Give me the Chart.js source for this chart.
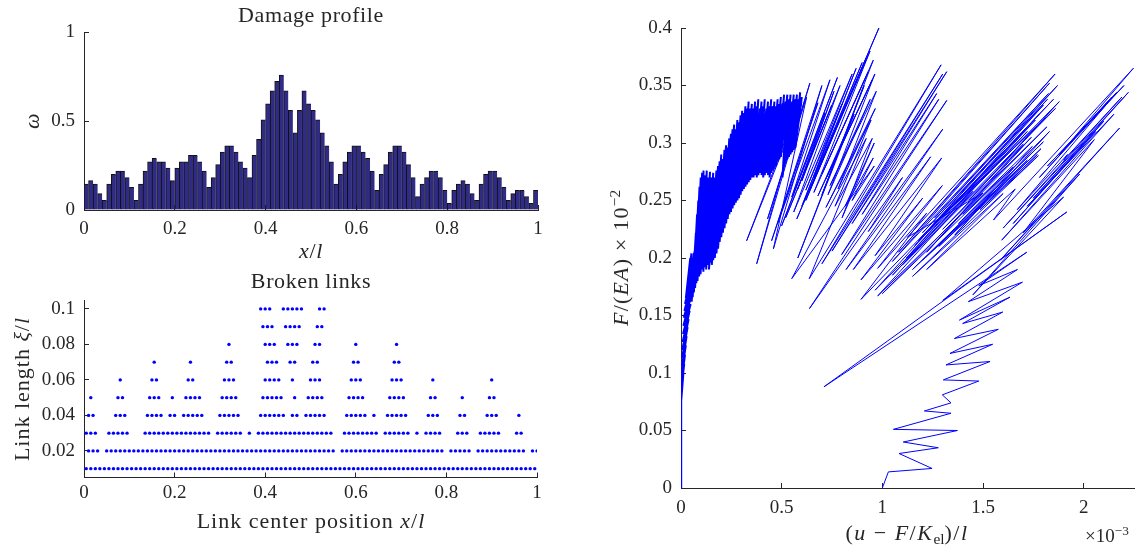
<!DOCTYPE html>
<html lang="en">
<head>
<meta charset="UTF-8">
<title>Damage profile, broken links and load path</title>
<script src="https://cdn.jsdelivr.net/npm/chart.js"></script>
<style>
  body {
    margin: 0;
    background: #fff;
    width: 1142px;
    height: 551px;
    position: relative;
    overflow: hidden;
    font-family: 'Liberation Serif', 'Times New Roman', serif;
    color: #262626;
  }
  canvas { position: absolute; }
  .lbl {
    position: absolute;
    white-space: nowrap;
    line-height: 1;
    font-size: 22px;
    letter-spacing: 0.6px;
    transform: translate(-50%, -50%);
  }
  .rot { transform: translate(-50%, -50%) rotate(-90deg); }
  sup, sub { font-size: 0.7em; line-height: 0; letter-spacing: 0; }
  sup { vertical-align: 0.5em; }
  sub { vertical-align: -0.25em; }
</style>
</head>
<body>

<canvas id="damageChart" width="560" height="250" style="left:0;top:0"></canvas>
<canvas id="linksChart" width="560" height="260" style="left:0;top:250px"></canvas>
<canvas id="loadChart" width="562" height="551" style="left:580px;top:0"></canvas>

<div class="lbl" style="left:311px;top:15px">Damage profile</div>
<div class="lbl" style="left:311px;top:251px"><i>x</i>/<i>l</i></div>
<div class="lbl rot" style="left:32px;top:121px"><i>ω</i></div>
<div class="lbl" style="left:311px;top:281px">Broken links</div>
<div class="lbl" style="left:311px;top:521px;letter-spacing:1px">Link center position <i>x</i>/<i>l</i></div>
<div class="lbl rot" style="left:22px;top:389px;letter-spacing:1px">Link length <i>ξ</i>/<i>l</i></div>
<div class="lbl rot" style="left:621px;top:258px;letter-spacing:1.2px"><i>F</i>/(<i>EA</i>) × 10<sup>−2</sup></div>
<div class="lbl" style="left:907px;top:533px;letter-spacing:1.5px">(<i>u</i> − <i>F</i>/<i>K</i><sub>el</sub>)/<i>l</i></div>
<div class="lbl" style="left:1107px;top:535px;font-size:19px;letter-spacing:0">×10<sup>−3</sup></div>

<script>
// damage per element (100 elements along the bar)
const damageOmega = [
  0.146, 0.165, 0.146, 0.092, 0.054, 0.146, 0.2, 0.219, 0.219, 0.182,
  0.127, 0.054, 0.146, 0.219, 0.27, 0.29, 0.27, 0.27, 0.236, 0.165,
  0.236, 0.27, 0.27, 0.307, 0.307, 0.27, 0.219, 0.127, 0.182, 0.255,
  0.326, 0.361, 0.361, 0.326, 0.27, 0.236, 0.182, 0.307, 0.397, 0.506,
  0.596, 0.669, 0.723, 0.758, 0.669, 0.56, 0.434, 0.56, 0.669, 0.596,
  0.56, 0.506, 0.434, 0.361, 0.27, 0.146, 0.2, 0.27, 0.326, 0.361,
  0.361, 0.326, 0.29, 0.219, 0.11, 0.2, 0.255, 0.326, 0.361, 0.361,
  0.326, 0.255, 0.182, 0.075, 0.146, 0.182, 0.219, 0.219, 0.182, 0.11,
  0.037, 0.11, 0.146, 0.165, 0.146, 0.092, 0.054, 0.146, 0.2, 0.219,
  0.219, 0.182, 0.127, 0.054, 0.092, 0.11, 0.11, 0.075, 0.037, 0.11
];
const damageBins = damageOmega.map((_, i) => i);
const damageXTicks = [0, 0.2, 0.4, 0.6, 0.8, 1];
const damageXLabels = ['0', '0.2', '0.4', '0.6', '0.8', '1'];
const damageYTicks = [0, 0.5, 1];
const damageYLabels = ['0', '0.5', '1'];

// broken links: centre positions (in % of l) for each link length
const linkLengths = [0.01, 0.02, 0.03, 0.04, 0.05, 0.06, 0.07, 0.08, 0.09, 0.1];
const centersLen1 = [0.5, 1.5, 2.5, 3.5, 4.5, 5.5, 6.5, 7.5, 8.5, 9.5, 10.5, 11.5, 12.5, 13.5, 14.5, 15.5, 16.5, 17.5, 18.5, 19.5,
  20.5, 21.5, 22.5, 23.5, 24.5, 25.5, 26.5, 27.5, 28.5, 29.5, 30.5, 31.5, 32.5, 33.5, 34.5, 35.5, 36.5, 37.5, 38.5, 39.5,
  40.5, 41.5, 42.5, 43.5, 44.5, 45.5, 46.5, 47.5, 48.5, 49.5, 50.5, 51.5, 52.5, 53.5, 54.5, 55.5, 56.5, 57.5, 58.5, 59.5,
  60.5, 61.5, 62.5, 63.5, 64.5, 65.5, 66.5, 67.5, 68.5, 69.5, 70.5, 71.5, 72.5, 73.5, 74.5, 75.5, 76.5, 77.5, 78.5, 79.5,
  80.5, 81.5, 82.5, 83.5, 84.5, 85.5, 86.5, 87.5, 88.5, 89.5, 90.5, 91.5, 92.5, 93.5, 94.5, 95.5, 96.5, 97.5, 98.5, 99.5];
const centersLen2 = [1, 2, 3, 5, 6, 7, 8, 9, 10, 11, 12, 13, 14, 15, 16, 17, 18, 19, 20, 21, 22, 23, 24, 25, 26, 27, 28, 29,
  30, 31, 32, 33, 34, 35, 36, 37, 38, 39, 40, 41, 42, 43, 44, 45, 46, 47, 48, 49, 50, 51, 52, 53, 54, 55, 57, 58, 59,
  60, 61, 62, 63, 64, 65, 66, 67, 68, 69, 70, 71, 72, 73, 74, 75, 76, 77, 78, 79, 81, 82, 83, 84, 85,
  87, 88, 89, 90, 91, 92, 93, 94, 95, 96, 97, 99, 100];
const centersLen3 = [0.5, 1.5, 2.5, 5.5, 6.5, 7.5, 8.5, 9.5, 13.5, 14.5, 15.5, 16.5, 17.5, 18.5, 19.5, 20.5, 21.5, 22.5,
  23.5, 24.5, 25.5, 26.5, 27.5, 29.5, 30.5, 31.5, 32.5, 33.5, 34.5, 36.5, 38.5, 39.5, 40.5, 41.5, 42.5, 43.5, 44.5,
  45.5, 46.5, 47.5, 48.5, 49.5, 50.5, 51.5, 52.5, 53.5, 54.5, 57.5, 58.5, 59.5, 60.5, 61.5, 62.5, 63.5, 64.5, 66.5,
  67.5, 68.5, 69.5, 70.5, 71.5, 73.5, 75.5, 76.5, 77.5, 78.5, 82.5, 83.5, 84.5, 87.5, 88.5, 89.5, 90.5, 91.5, 95.5, 96.5];
const centersLen4 = [1, 2, 7, 8, 9, 14, 15, 16, 17, 19, 20, 22, 23, 24, 25, 26, 30, 31, 32, 33, 34, 39, 40, 41, 42, 43, 44,
  46, 47, 49, 50, 51, 52, 53, 58, 59, 60, 61, 62, 64, 67, 68, 69, 70, 71, 76, 77, 78, 83, 84, 89, 90, 91, 96];
const centersLen5 = [1.5, 7.5, 8.5, 14.5, 15.5, 16.5, 19.5, 22.5, 23.5, 24.5, 25.5, 30.5, 31.5, 32.5, 33.5, 39.5, 40.5,
  41.5, 42.5, 43.5, 46.5, 49.5, 50.5, 51.5, 52.5, 58.5, 59.5, 60.5, 61.5, 67.5, 68.5, 69.5, 70.5, 76.5, 77.5, 83.5,
  89.5, 90.5];
const centersLen6 = [8, 15, 16, 23, 24, 31, 32, 33, 40, 41, 42, 43, 46, 50, 51, 52, 59, 60, 61, 68, 69, 70, 77, 90];
const centersLen7 = [15.5, 23.5, 31.5, 32.5, 40.5, 41.5, 42.5, 45.5, 46.5, 50.5, 51.5, 59.5, 60.5, 68.5, 69.5];
const centersLen8 = [32, 40, 41, 42, 45, 46, 47, 51, 52, 60, 69];
const centersLen9 = [39.5, 40.5, 41.5, 44.5, 45.5, 46.5, 47.5, 51.5, 52.5];
const centersLen10 = [39, 40, 41, 44, 45, 46, 47, 48, 52, 53];
const linkRows = [centersLen1, centersLen2, centersLen3, centersLen4, centersLen5,
  centersLen6, centersLen7, centersLen8, centersLen9, centersLen10];
const linkXTicks = [0, 0.2, 0.4, 0.6, 0.8, 1];
const linkXLabels = ['0', '0.2', '0.4', '0.6', '0.8', '1'];
const linkYTicks = [0.02, 0.04, 0.06, 0.08, 0.1];
const linkYLabels = ['0.02', '0.04', '0.06', '0.08', '0.1'];

// load path: [ (u - F/Kel)/l  x1e-3 , F/(EA) x1e-2 ]
// early, densely serrated part of the curve
const pathBlob = [
  [0, 0], [0, 0.082], [0.002, 0.076], [0.012, 0.1], [0.001, 0.085], [0.016, 0.108], [0.002, 0.092], [0.02, 0.116],
  [0.003, 0.1], [0.024, 0.124], [0.004, 0.106], [0.028, 0.132], [0.005, 0.113], [0.033, 0.14], [0.006, 0.12], [0.038, 0.147],
  [0.008, 0.127], [0.043, 0.154], [0.01, 0.134], [0.048, 0.16], [0.012, 0.141], [0.052, 0.168], [0.014, 0.148], [0.056, 0.176],
  [0.017, 0.154], [0.06, 0.185], [0.02, 0.16], [0.063, 0.195], [0.024, 0.165], [0.046, 0.2], [0.028, 0.17], [0.052, 0.204],
  [0.032, 0.175], [0.058, 0.2], [0.036, 0.178], [0.064, 0.204], [0.04, 0.18], [0.068, 0.206],
  [0.053, 0.162], [0.074, 0.222], [0.058, 0.166], [0.08, 0.238], [0.064, 0.17], [0.086, 0.25], [0.07, 0.174], [0.092, 0.262],
  [0.076, 0.178], [0.098, 0.27], [0.082, 0.18], [0.105, 0.274],
  [0.09, 0.184], [0.112, 0.276], [0.097, 0.186], [0.12, 0.272], [0.104, 0.19], [0.128, 0.276],
  [0.111, 0.188], [0.136, 0.27], [0.118, 0.192], [0.144, 0.275], [0.125, 0.19], [0.152, 0.27], [0.132, 0.194], [0.16, 0.274],
  [0.139, 0.19], [0.168, 0.27], [0.146, 0.196], [0.176, 0.276], [0.153, 0.194], [0.184, 0.28], [0.16, 0.198], [0.192, 0.284],
  [0.168, 0.2], [0.2, 0.29], [0.176, 0.204], [0.208, 0.286], [0.184, 0.208], [0.216, 0.294], [0.192, 0.214], [0.224, 0.298],
  [0.2, 0.218], [0.232, 0.296], [0.208, 0.222], [0.24, 0.304], [0.216, 0.226], [0.248, 0.308], [0.224, 0.23], [0.256, 0.312],
  [0.232, 0.234], [0.264, 0.316], [0.24, 0.238], [0.272, 0.312], [0.248, 0.24], [0.28, 0.32], [0.256, 0.243], [0.288, 0.318],
  [0.264, 0.246], [0.296, 0.324], [0.272, 0.248], [0.304, 0.328], [0.28, 0.25], [0.312, 0.326], [0.288, 0.252], [0.32, 0.332],
  [0.296, 0.255], [0.328, 0.33], [0.304, 0.258], [0.336, 0.336], [0.312, 0.26], [0.344, 0.33], [0.32, 0.262], [0.352, 0.334],
  [0.328, 0.264], [0.36, 0.33], [0.336, 0.266], [0.368, 0.336], [0.344, 0.268], [0.376, 0.332], [0.352, 0.27], [0.384, 0.338],
  [0.36, 0.27], [0.392, 0.33], [0.368, 0.272], [0.4, 0.336], [0.376, 0.27], [0.408, 0.332], [0.384, 0.272], [0.416, 0.338],
  [0.392, 0.274], [0.424, 0.33], [0.4, 0.272], [0.432, 0.336], [0.408, 0.27], [0.44, 0.332], [0.416, 0.272], [0.448, 0.338],
  [0.424, 0.274], [0.456, 0.332], [0.432, 0.272], [0.464, 0.336], [0.44, 0.27], [0.472, 0.332], [0.448, 0.274], [0.48, 0.338],
  [0.456, 0.276], [0.488, 0.334], [0.464, 0.278], [0.496, 0.34], [0.472, 0.28], [0.504, 0.334], [0.48, 0.284], [0.512, 0.342],
  [0.488, 0.286], [0.52, 0.336], [0.496, 0.288], [0.528, 0.342], [0.504, 0.27], [0.536, 0.338], [0.512, 0.28], [0.544, 0.342],
  [0.52, 0.284], [0.552, 0.336], [0.528, 0.286], [0.56, 0.342], [0.536, 0.288], [0.568, 0.338], [0.544, 0.29], [0.576, 0.342],
  [0.552, 0.292], [0.584, 0.338], [0.56, 0.294], [0.592, 0.344], [0.568, 0.296], [0.6, 0.34]
];
// fans of loading / unloading branches, each pair is [near end], [far end]
const pathFanA = [
  [0.326, 0.215], [0.6, 0.335], [0.376, 0.195], [0.64, 0.352], [0.43, 0.234], [0.624, 0.34], [0.459, 0.208], [0.7, 0.35],
  [0.45, 0.215], [0.68, 0.335], [0.48, 0.23], [0.74, 0.355], [0.55, 0.253], [0.777, 0.357], [0.5, 0.228], [0.715, 0.326],
  [0.58, 0.26], [0.76, 0.345], [0.6, 0.267], [0.749, 0.333], [0.52, 0.235], [0.79, 0.35], [0.56, 0.24], [0.85, 0.36],
  [0.62, 0.259], [0.8, 0.334], [0.6, 0.245], [0.87, 0.365], [0.66, 0.27], [0.9, 0.37], [0.62, 0.25], [0.92, 0.374],
  [0.575, 0.234], [0.983, 0.4], [0.64, 0.259], [0.939, 0.38], [0.66, 0.257], [0.93, 0.362], [0.7, 0.273], [0.955, 0.372],
  [0.7, 0.255], [0.91, 0.35], [0.58, 0.2], [0.86, 0.325], [0.68, 0.254], [0.95, 0.355], [0.72, 0.269], [0.963, 0.36],
  [0.73, 0.255], [0.94, 0.338], [0.74, 0.263], [0.97, 0.345], [0.78, 0.26], [0.965, 0.33], [0.72, 0.244], [0.944, 0.32],
  [0.765, 0.245], [0.95, 0.304], [0.8, 0.235], [0.96, 0.3], [0.815, 0.245], [0.955, 0.287], [0.85, 0.25], [0.96, 0.28]
];
const pathFanB = [
  [0.55, 0.182], [0.92, 0.304], [0.637, 0.182], [1.292, 0.368], [0.7, 0.195], [1.3, 0.36], [0.75, 0.206], [1.32, 0.362],
  [0.85, 0.23], [1.27, 0.343], [0.9, 0.238], [1.28, 0.338], [0.798, 0.203], [1.32, 0.337], [0.638, 0.156], [1.1, 0.27],
  [0.93, 0.223], [1.3, 0.312], [0.82, 0.19], [1.24, 0.288], [0.856, 0.19], [1.295, 0.287], [0.964, 0.202], [1.2, 0.252],
  [0.894, 0.181], [1.298, 0.263], [0.977, 0.191], [1.22, 0.239], [0.894, 0.164], [1.34, 0.245], [0.964, 0.172], [1.45, 0.258],
  [0.977, 0.167], [1.5, 0.2565]
];
const pathFanC = [
  [1.124, 0.218], [1.858, 0.36], [1.08, 0.205], [1.83, 0.352], [1.05, 0.197], [1.825, 0.343], [1.26, 0.235], [1.87, 0.35],
  [1.18, 0.215], [1.82, 0.338], [1.2, 0.222], [1.8, 0.333], [1.12, 0.2], [1.78, 0.325], [1.25, 0.228], [1.85, 0.338],
  [1.162, 0.211], [1.76, 0.32], [1.05, 0.185], [1.72, 0.31], [1.35, 0.242], [1.879, 0.336], [1.43, 0.25], [1.81, 0.322],
  [1.32, 0.24], [1.86, 0.33], [1.1, 0.194], [1.7, 0.299], [1.22, 0.205], [1.74, 0.305], [1.3, 0.225], [1.817, 0.314],
  [1.0, 0.169], [1.65, 0.279], [1.4, 0.238], [1.745, 0.297], [1.36, 0.22], [1.83, 0.31], [1.378, 0.23], [1.8, 0.301],
  [1.15, 0.19], [1.72, 0.285], [1.2, 0.198], [1.788, 0.295], [1.28, 0.21], [1.77, 0.29], [1.485, 0.242], [1.775, 0.289],
  [1.15, 0.184], [1.6, 0.256], [1.22, 0.19], [1.66, 0.26]
];
const pathFanD = [
  [1.552, 0.233], [2.247, 0.365], [1.88, 0.29], [2.164, 0.344], [1.924, 0.299], [2.14, 0.34], [1.78, 0.27], [2.2, 0.35],
  [1.82, 0.28], [2.12, 0.335], [1.67, 0.242], [1.92, 0.29], [1.9, 0.285], [2.19, 0.34], [1.6, 0.226], [2.222, 0.344],
  [1.75, 0.252], [2.1, 0.319], [1.65, 0.23], [2.06, 0.31], [1.72, 0.245], [2.15, 0.325], [1.593, 0.2155], [2.053, 0.303],
  [1.7, 0.222], [2.178, 0.313], [1.585, 0.198], [1.98, 0.273], [1.45, 0.168], [1.9, 0.253], [1.3, 0.163], [1.916, 0.24],
  [0.71, 0.088], [1.717, 0.205]
];
// final softening branch
const pathTail = [
  [1.479, 0.176], [1.671, 0.19], [1.427, 0.162], [1.696, 0.179], [1.383, 0.146], [1.634, 0.166], [1.399, 0.143], [1.598, 0.153],
  [1.358, 0.13], [1.576, 0.138], [1.336, 0.117], [1.548, 0.125], [1.316, 0.107], [1.535, 0.11], [1.303, 0.094], [1.479, 0.093],
  [1.298, 0.081], [1.341, 0.074], [1.209, 0.067], [1.341, 0.065], [1.055, 0.051], [1.373, 0.05], [1.104, 0.04], [1.278, 0.035],
  [1.083, 0.03], [1.247, 0.017], [1.03, 0.014], [1.0, 0.0]
];
const loadXTicks = [0, 0.5, 1, 1.5, 2];
const loadXLabels = ['0', '0.5', '1', '1.5', '2'];
const loadYTicks = [0, 0.05, 0.1, 0.15, 0.2, 0.25, 0.3, 0.35, 0.4];
const loadYLabels = ['0', '0.05', '0.1', '0.15', '0.2', '0.25', '0.3', '0.35', '0.4'];

const axisColor = '#262626';
const tickFont = { family: "'Liberation Serif', 'Times New Roman', serif", size: 19 };

function makeAxis(o) {
  return {
    type: 'linear',
    position: o.position,
    min: o.min,
    max: o.max,
    offset: false,
    afterFit: s => {
      if (o.position === 'left') s.width = o.size; else s.height = o.size;
    },
    afterBuildTicks: s => { s.ticks = o.ticks.map(v => ({ value: v })); },
    border: { display: true, color: axisColor, width: 1 },
    grid: { display: true, offset: false, drawOnChartArea: false, drawTicks: true, tickLength: -5, color: axisColor, lineWidth: 1 },
    ticks: {
      autoSkip: false,
      maxRotation: 0,
      padding: o.pad,
      color: axisColor,
      font: tickFont,
      callback: (v, i) => o.labels[i]
    }
  };
}

const baseOptions = {
  responsive: false,
  animation: false,
  events: [],
  plugins: { legend: { display: false }, tooltip: { enabled: false } }
};

new Chart(document.getElementById('damageChart'), {
  type: 'bar',
  data: {
    labels: damageBins,
    datasets: [{
      data: damageOmega,
      backgroundColor: '#302b84',
      borderColor: '#111111',
      borderWidth: { top: 1, left: 1, right: 0, bottom: 0 },
      categoryPercentage: 1,
      barPercentage: 1
    }]
  },
  options: {
    ...baseOptions,
    layout: { padding: { left: 0, top: 32, right: 22, bottom: 0 }, autoPadding: false },
    scales: {
      x: { type: 'category', display: false },
      xt: makeAxis({ position: 'bottom', min: 0, max: 1, size: 40, pad: 13, ticks: damageXTicks, labels: damageXLabels }),
      y: makeAxis({ position: 'left', min: 0, max: 1, size: 84, pad: 14, ticks: damageYTicks, labels: damageYLabels })
    }
  }
});

const linkPoints = [];
linkRows.forEach((row, k) => {
  row.forEach(c => linkPoints.push({ x: c / 100, y: linkLengths[k] }));
});

new Chart(document.getElementById('linksChart'), {
  type: 'scatter',
  data: {
    datasets: [{
      data: linkPoints,
      pointRadius: 1.7,
      pointBackgroundColor: '#0000ff',
      pointBorderWidth: 0
    }]
  },
  options: {
    ...baseOptions,
    layout: { padding: { left: 0, top: 50, right: 23, bottom: 0 }, autoPadding: false },
    scales: {
      x: makeAxis({ position: 'bottom', min: 0, max: 1, size: 32.5, pad: 9, ticks: linkXTicks, labels: linkXLabels }),
      y: makeAxis({ position: 'left', min: 0.005, max: 0.105, size: 84, pad: 14, ticks: linkYTicks, labels: linkYLabels })
    }
  }
});

const toXY = p => ({ x: p[0], y: p[1] });
const blobPoints = pathBlob.map(toXY);
const restPoints = [pathBlob[pathBlob.length - 1], ...pathFanA, ...pathFanB, ...pathFanC, ...pathFanD, ...pathTail].map(toXY);

new Chart(document.getElementById('loadChart'), {
  type: 'scatter',
  data: {
    datasets: [{
      data: blobPoints,
      showLine: true,
      borderColor: '#0000ff',
      borderWidth: 2,
      pointRadius: 0
    }, {
      data: restPoints,
      showLine: true,
      borderColor: '#0000ff',
      borderWidth: 1,
      pointRadius: 0
    }]
  },
  options: {
    ...baseOptions,
    layout: { padding: { left: 0, top: 28, right: 8, bottom: 0 }, autoPadding: false },
    scales: {
      x: makeAxis({ position: 'bottom', min: 0, max: 2.25, size: 63, pad: 14, ticks: loadXTicks, labels: loadXLabels }),
      y: makeAxis({ position: 'left', min: 0, max: 0.4, size: 101, pad: 14, ticks: loadYTicks, labels: loadYLabels })
    }
  }
});
</script>

</body>
</html>
